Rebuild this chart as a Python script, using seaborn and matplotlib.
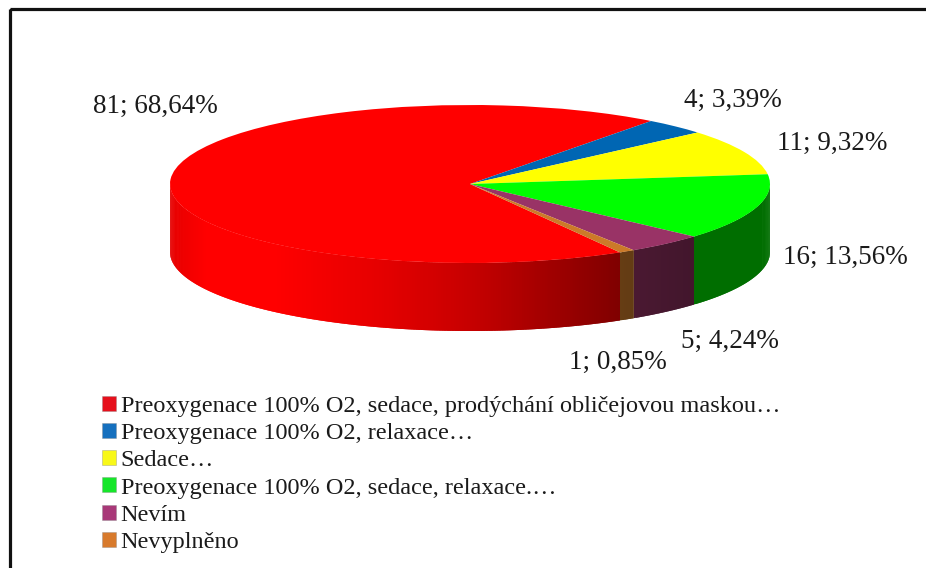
import numpy as np
import matplotlib
matplotlib.use("Agg")
import matplotlib.pyplot as plt
from matplotlib.patches import Patch, Rectangle
import seaborn as sns

categories = [
    "Preoxygenace 100% O2, sedace, prodýchání obličejovou maskou…",
    "Preoxygenace 100% O2, relaxace…",
    "Sedace…",
    "Preoxygenace 100% O2, sedace, relaxace.…",
    "Nevím",
    "Nevyplněno",
]
counts = [81, 4, 11, 16, 5, 1]
percents = ["68,64%", "3,39%", "9,32%", "13,56%", "4,24%", "0,85%"]
slice_colors = ["#ff0000", "#0066b3", "#ffff00", "#00ff00", "#993366", "#cc7a29"]
key_colors = ["#e6101c", "#1670be", "#f8f818", "#16e62a", "#a83878", "#d87a2c"]
label_centers = [(155, 106), (733, 100), (832, 143), (845, 257), (730, 341), (618, 362)]

sns.set_theme(style="white")
plt.rcParams["font.family"] = ["Liberation Serif", "DejaVu Serif"]

W, H = 926, 568
fig = plt.figure(figsize=(W / 100, H / 100), dpi=100, facecolor="white")

# Pixel-coordinate overlay for the frame and the value labels; the frame runs off the page
page = fig.add_axes([0, 0, 1, 1], zorder=3)
page.set_xlim(0, W)
page.set_ylim(H, 0)
page.axis("off")
page.patch.set_alpha(0)
page.add_patch(Rectangle((9.5, 8.5), W, H, fill=False, ec="#111111", lw=2.3, clip_on=True))

# Elliptical top face: the axes box squashes a regular pie
left, right, top, face_bottom, wall_bottom = 170, 770, 105, 263, 331
pie_ax = fig.add_axes([left / W, 1 - wall_bottom / H, (right - left) / W, (wall_bottom - top) / H], zorder=1)
depth = 2 * (wall_bottom - face_bottom) / (face_bottom - top)
start = -60.0
wedges, _ = pie_ax.pie(counts, colors=slice_colors, startangle=start, counterclock=False, radius=1,
                       wedgeprops={"linewidth": 0, "zorder": 5})
pie_ax.set_aspect("auto")
pie_ax.set_xlim(-1, 1)
pie_ax.set_ylim(-1 - depth, 1)


def wall_shade(x):
    """Brightness of the side wall across the pie's width."""
    return np.interp(x, [-1, -0.88, -0.65, -0.3, 0.0, 0.5, 0.75, 1],
                     [0.9, 1.0, 1.0, 0.9, 0.78, 0.5, 0.43, 0.43])


# Side wall: overlapping shaded strips along the lower half of each slice's rim
for wedge, color in zip(wedges, slice_colors):
    a0, a1 = wedge.theta1 % 360, wedge.theta2 % 360
    if a1 <= a0:
        a1 += 360
    for offset in (0, 360):
        lo, hi = max(a0 + offset, 180), min(a1 + offset, 360)
        if lo >= hi:
            continue
        edges = np.radians(np.linspace(lo, hi, max(int((hi - lo) * 2), 2) + 1))
        rgb = np.array(matplotlib.colors.to_rgb(color))
        for i in range(len(edges) - 1):
            t0, t1 = edges[i], edges[min(i + 2, len(edges) - 1)]
            arc = np.linspace(t0, t1, 5)
            xs = np.r_[np.cos(arc), np.cos(arc[::-1])]
            ys = np.r_[np.sin(arc), np.sin(arc[::-1]) - depth]
            shade = wall_shade(np.cos((edges[i] + edges[i + 1]) / 2))
            pie_ax.fill(xs, ys, color=rgb * shade, lw=0, zorder=2)

# Value labels beside the pie
for (cx, cy), n, pct in zip(label_centers, counts, percents):
    page.text(cx, cy, f"{n}; {pct}", ha="center", va="center", fontsize=19.5, color="#1a1a1a")

# Legend under the pie
handles = [Patch(facecolor=c, edgecolor="#88888880", linewidth=0.5) for c in key_colors]
fig.legend(handles, categories, loc="upper left", bbox_to_anchor=(92 / W, 1 - 386 / H),
           frameon=False, fontsize=17.5, labelspacing=0.25, handlelength=0.58, handleheight=0.58,
           handletextpad=0.2, labelcolor="#1a1a1a", borderpad=0.4, borderaxespad=0)

fig.savefig("out.png", dpi=100, facecolor="white")
